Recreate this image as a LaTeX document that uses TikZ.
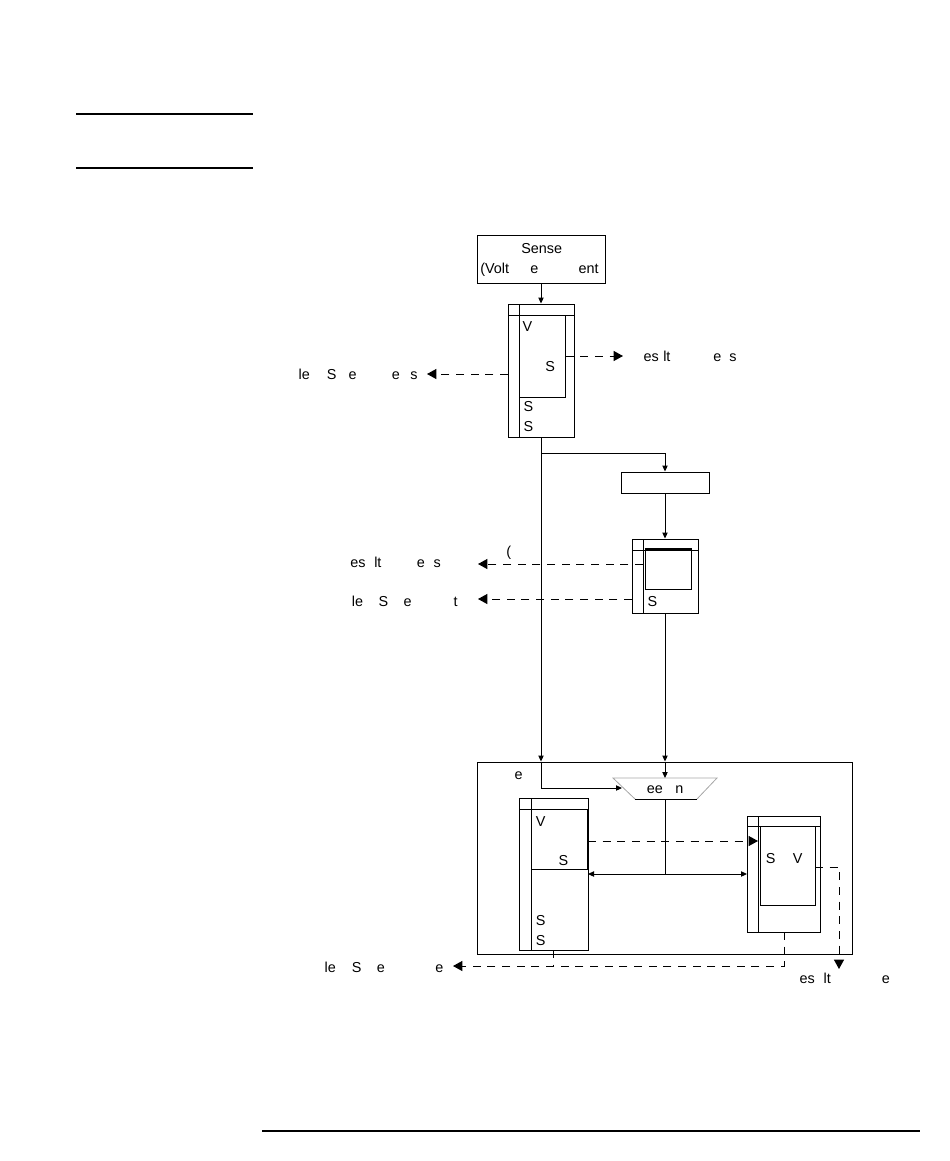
\documentclass[tikz,border=0pt]{standalone}
\usepackage{fontspec}
\setmainfont{Liberation Sans}
\usetikzlibrary{arrows.meta,fit,calc}
\tikzset{
  frame/.style={draw, line width=0.75pt, inner sep=0pt},
  lbl/.style={inner sep=0pt, anchor=base west, font=\fontsize{10.8}{13}\selectfont},
  clbl/.style={inner sep=0pt, anchor=base, font=\fontsize{10.8}{13}\selectfont},
  thin/.style={line width=0.75pt},
  sarrow/.style={line width=0.75pt, -{Triangle[length=4.5pt,width=4pt]}},
  darrow/.style={line width=0.75pt, dash pattern=on 6pt off 5pt, -{Triangle[length=7pt,width=7.5pt]}},
  dline/.style={line width=0.75pt, dash pattern=on 6pt off 5pt},
  heavy/.style={line width=1.5pt},
}
\begin{document}
\begin{tikzpicture}[x=0.75pt,y=-0.75pt]
\useasboundingbox (0,0) rectangle (950,1161);

% page rules
\coordinate (r1a) at (76,114);  \coordinate (r1b) at (253,114);
\coordinate (r2a) at (76,168);  \coordinate (r2b) at (253,168);
\coordinate (r3a) at (262,1131); \coordinate (r3b) at (920,1131);
\draw[heavy] (r1a) -- (r1b);
\draw[heavy] (r2a) -- (r2b);
\draw[line width=1.2pt] (r3a) -- (r3b);

% Sense box
\node[frame, fit={(477,235)(605,283)}] (sense) {};
\node[clbl] (senseA) at (541.7,253) {Sense};
\node[lbl] (senseB) at (480,273.3) {(Volt};
\node[lbl] (senseC) at (530,273.3) {e};
\node[lbl] (senseD) at (578.3,273.3) {ent};

% Block 1
\node[frame, fit={(508,304)(574,437)}] (b1) {};
\node[frame, fit={(519,315)(565,397)}] (b1in) {};
\draw[thin] (508,315) coordinate (b1hl) -- (574,315) coordinate (b1hr);
\draw[thin] (519,304) coordinate (b1ct) -- (519,437) coordinate (b1cb);
\node[lbl] (b1V) at (522.3,331.7) {V};
\node[lbl] (b1S1) at (545,371.7) {S};
\node[lbl] (b1S2) at (523.3,411.7) {S};
\node[lbl] (b1S3) at (523.3,431.7) {S};

% Block 1 outputs
\coordinate (o1) at (623,356);
\coordinate (o2a) at (508,374);
\coordinate (o2) at (427,374);
\draw[darrow] (b1in.east) -- (o1);
\draw[darrow] (o2a) -- (o2);
\node[lbl] (l1a) at (643.3,361) {es};
\node[lbl] (l1b) at (663,361) {lt};
\node[lbl] (l1c) at (713,361) {e};
\node[lbl] (l1d) at (729,361) {s};
\node[lbl] (l2a) at (298.3,379) {le};
\node[lbl] (l2b) at (326.7,379) {S};
\node[lbl] (l2c) at (348.3,379) {e};
\node[lbl] (l2d) at (391.7,379) {e};
\node[lbl] (l2e) at (410,379) {s};

\draw[sarrow] (sense.south) -- (b1.north);

% empty box and block 2
\node[frame, fit={(621,472)(709,493)}] (ebox) {};
\node[frame, fit={(632,539)(698,613)}] (b2) {};
\node[frame, fit={(645,549)(691,589)}] (b2in) {};
\draw[line width=1.3pt] (b2in.north west) -- (b2in.north east);
\draw[thin] (632,550) coordinate (b2hl) -- (698,550) coordinate (b2hr);
\draw[thin] (643,539) coordinate (b2ct) -- (643,613) coordinate (b2cb);
\node[lbl] (b2S) at (647.3,606.7) {S};

% big box
\node[frame, fit={(477,762)(852,954)}] (big) {};
\node[lbl] (bigE) at (514.3,779) {e};

% main flow
\coordinate (br) at (541,453);
\draw[sarrow] (b1.south) -- (b1.south |- big.north);
\draw[sarrow] (br) -| (ebox.north);
\draw[sarrow] (ebox.south) -- (b2.north);
\draw[sarrow] (b2.south) -- (b2.south |- big.north);

% block 2 outputs
\coordinate (o3a) at (643,564);
\coordinate (o3) at (478,564);
\coordinate (o4a) at (632,599);
\coordinate (o4) at (478,599);
\draw[darrow] (o3a) -- (o3);
\draw[darrow] (o4a) -- (o4);
\node[lbl] (par) at (506,556) {(};
\node[lbl] (l3a) at (350,567.3) {es};
\node[lbl] (l3b) at (374,567.3) {lt};
\node[lbl] (l3c) at (416.7,567.3) {e};
\node[lbl] (l3d) at (433.3,567.3) {s};
\node[lbl] (l4a) at (351.7,606.7) {le};
\node[lbl] (l4b) at (378.3,606.7) {S};
\node[lbl] (l4c) at (403.3,606.7) {e};
\node[lbl] (l4d) at (453.3,606.7) {t};

% trapezoid
\coordinate (tzTL) at (613,778);
\coordinate (tzTR) at (717,778);
\coordinate (tzBR) at (697,799);
\coordinate (tzBL) at (635,799);
\coordinate (tzIn) at (622,788);
\coordinate (tzTop) at (665,778);
\coordinate (tzBot) at (665,799);
\draw[line width=0.6pt, gray!70] (tzBL) -- (tzTL) -- (tzTR) -- (tzBR);
\draw[thin] (tzBL) -- (tzBR);
\node[lbl] (tzA) at (646.7,793.3) {ee};
\node[lbl] (tzB) at (675,793.3) {n};
\draw[sarrow] (b1.south |- big.north) |- (tzIn);
\draw[sarrow] (b2.south |- big.north) -- (tzTop);

% block 3
\node[frame, fit={(519,798)(588,950)}] (b3) {};
\node[frame, fit={(531,809)(587,869)}] (b3in) {};
\draw[thin] (519,809) coordinate (b3hl) -- (588,809) coordinate (b3hr);
\draw[thin] (531,798) coordinate (b3ct) -- (531,950) coordinate (b3cb);
\node[lbl] (b3V) at (535.7,826) {V};
\node[lbl] (b3S1) at (558.3,865) {S};
\node[lbl] (b3S2) at (535.7,925) {S};
\node[lbl] (b3S3) at (535.7,945) {S};

% block 4
\node[frame, fit={(747,816)(820,932)}] (b4) {};
\node[frame, fit={(760,826)(815,905)}] (b4in) {};
\draw[thin] (747,826) coordinate (b4hl) -- (820,826) coordinate (b4hr);
\draw[thin] (758,816) coordinate (b4ct) -- (758,932) coordinate (b4cb);
\node[lbl] (b4S) at (765.7,863.3) {S};
\node[lbl] (b4V) at (792.7,863.3) {V};

% bus from trapezoid
\coordinate (bus) at (665,874);
\coordinate (busL) at (588,874);
\coordinate (busR) at (747,874);
\draw[thin] (tzBot) -- (bus);
\draw[line width=0.75pt, {Triangle[length=4.5pt,width=4pt]}-{Triangle[length=4.5pt,width=4pt]}] (busL) -- (busR);

% dashed inside big box
\coordinate (d1a) at (588,841);
\coordinate (d1b) at (758,841);
\draw[darrow] (d1a) -- (d1b);
\coordinate (d2a) at (815,867);
\coordinate (d2b) at (839,867);
\coordinate (d2c) at (839,969);
\draw[darrow] (d2a) -- (d2b) -- (d2c);
\coordinate (d3a) at (784,932);
\coordinate (d3b) at (784,966);
\coordinate (d3c) at (453,966);
\draw[darrow] (d3a) -- (d3b) -- (d3c);
\coordinate (d4a) at (553,950);
\coordinate (d4b) at (553,966);
\draw[dline] (d4a) -- (d4b);

% bottom labels
\node[lbl] (l5a) at (324.3,972.7) {le};
\node[lbl] (l5b) at (351.7,972.7) {S};
\node[lbl] (l5c) at (376.7,972.7) {e};
\node[lbl] (l5d) at (435,972.7) {e};
\node[lbl] (l6a) at (799.3,983.3) {es};
\node[lbl] (l6b) at (823.3,983.3) {lt};
\node[lbl] (l6c) at (881.7,983.3) {e};
\end{tikzpicture}
\end{document}
